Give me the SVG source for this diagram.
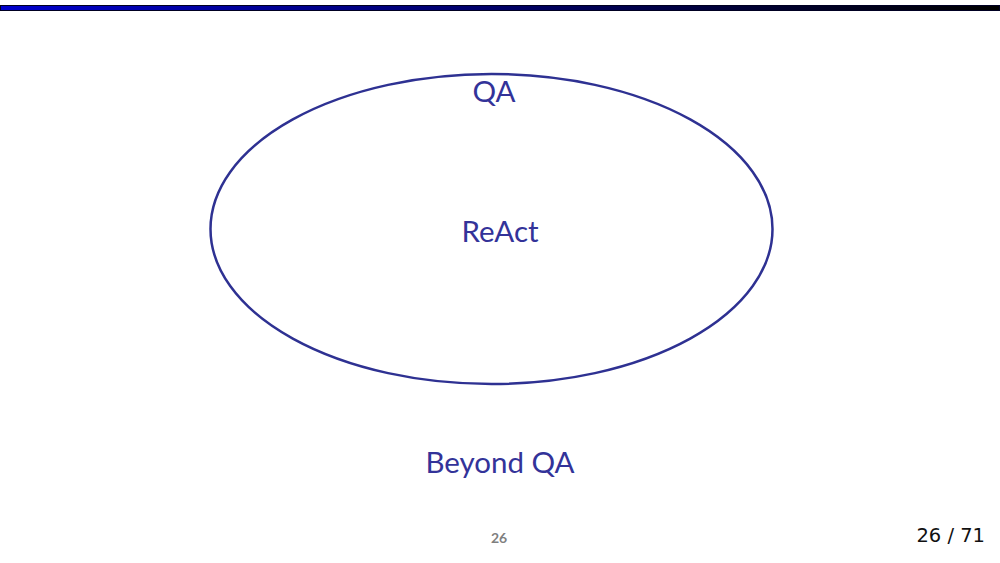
<svg xmlns="http://www.w3.org/2000/svg" width="1000" height="563" viewBox="0 0 1000 563">
<defs>
<linearGradient id="bar" x1="0" y1="0" x2="1" y2="0">
<stop offset="0" stop-color="#0000cc"/>
<stop offset="1" stop-color="#000000"/>
</linearGradient>
<style>
.lbl{font-family:"Lato","Open Sans",sans-serif;font-size:29.5px;fill:#333399;text-anchor:middle}
</style>
</defs>
<rect width="1000" height="563" fill="#ffffff"/>
<rect x="0.5" y="5.5" width="999" height="5" fill="url(#bar)" stroke="#000022" stroke-width="1"/>
<g id="qa">
<ellipse cx="491.5" cy="229" rx="281" ry="155" fill="none" stroke="#2e3192" stroke-width="2.5"/>
<text class="lbl" x="494" y="102">QA</text>
</g>
<g id="react">
<text class="lbl" x="500" y="242">ReAct</text>
</g>
<g id="beyond">
<text class="lbl" x="500" y="473">Beyond QA</text>
</g>
<g id="connectors"></g>
<text x="499" y="543" font-family="Lato,'Open Sans',sans-serif" font-size="14" font-weight="bold" fill="#7f7f7f" text-anchor="middle">26</text>
<text x="985" y="542" font-family="'DejaVu Sans',sans-serif" font-size="19.5" fill="#111111" text-anchor="end">26 / 71</text>
</svg>
